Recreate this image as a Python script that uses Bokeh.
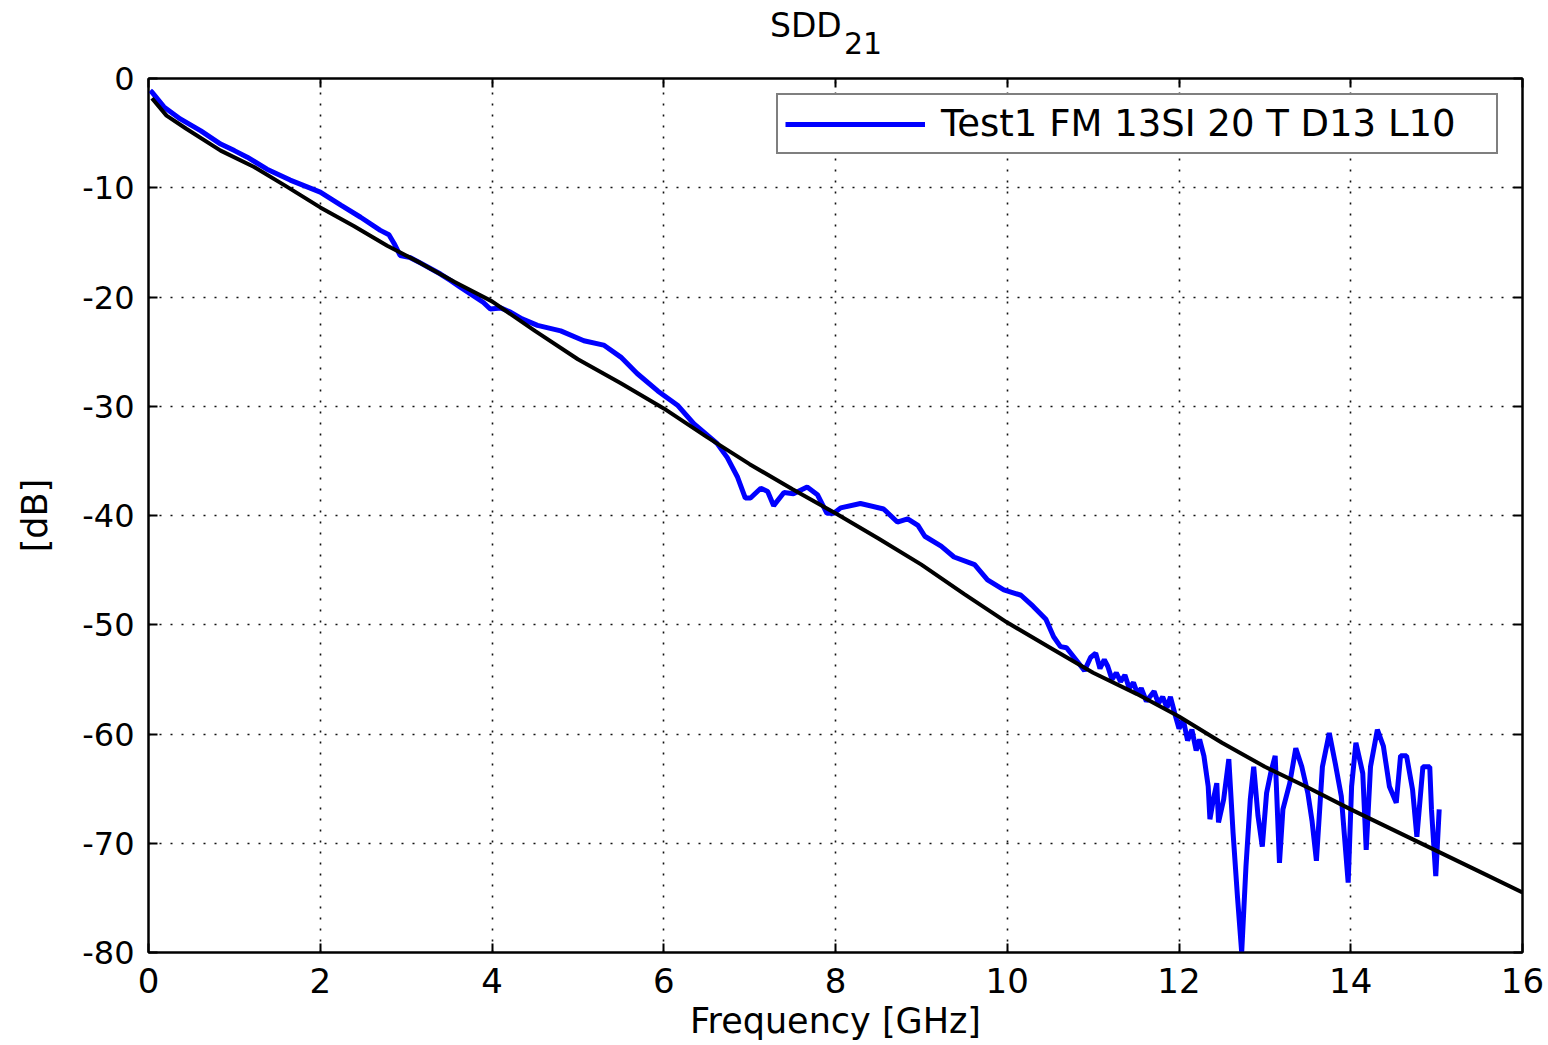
from bokeh.plotting import figure
from bokeh.layouts import column
from bokeh.models import Range1d, LinearAxis, FixedTicker, Legend, LegendItem, Div
from bokeh.embed import file_html
from bokeh.resources import INLINE

# ---------------- data ----------------
x_ticks = [0, 2, 4, 6, 8, 10, 12, 14, 16]
x_tick_labels = ["0", "2", "4", "6", "8", "10", "12", "14", "16"]
y_ticks = [-80, -70, -60, -50, -40, -30, -20, -10, 0]
y_tick_labels = ["-80", "-70", "-60", "-50", "-40", "-30", "-20", "-10", "0"]

title_main = "SDD"
title_sub = "21"
x_label = "Frequency [GHz]"
y_label = "[dB]"
legend_label = "Test1 FM 13SI 20 T D13 L10"

# measured curve (blue)
freq_meas = [
    0.02, 0.04, 0.18, 0.37, 0.61, 0.84, 1.00, 1.15, 1.38, 1.65,
    2.00, 2.24, 2.47, 2.70, 2.80, 2.86, 2.93, 3.05, 3.17, 3.40,
    3.52, 3.63, 3.90, 3.98, 4.10, 4.22, 4.35, 4.53, 4.80, 5.07,
    5.30, 5.50, 5.69, 5.93, 6.16, 6.35, 6.62, 6.74, 6.86, 6.95,
    7.01, 7.13, 7.21, 7.28, 7.40, 7.51, 7.67, 7.79, 7.90, 7.98,
    8.06, 8.29, 8.56, 8.72, 8.84, 8.96, 9.04, 9.23, 9.38, 9.62,
    9.77, 9.96, 10.16, 10.30, 10.45, 10.54, 10.62, 10.69, 10.83, 10.90,
    10.97, 11.03, 11.08, 11.13, 11.17, 11.22, 11.27, 11.32, 11.37, 11.42,
    11.47, 11.52, 11.56, 11.62, 11.71, 11.76, 11.81, 11.86, 11.90, 11.95,
    12.00, 12.05, 12.10, 12.15, 12.20, 12.24, 12.29, 12.34, 12.36, 12.40,
    12.44, 12.46, 12.52, 12.58, 12.63, 12.68, 12.73, 12.78, 12.83, 12.87,
    12.92, 12.97, 13.02, 13.07, 13.12, 13.17, 13.21, 13.29, 13.36, 13.43,
    13.50, 13.55, 13.60, 13.67, 13.75, 13.82, 13.89, 13.97, 14.01, 14.06,
    14.14, 14.18, 14.23, 14.31, 14.38, 14.45, 14.53, 14.58, 14.65, 14.72,
    14.77, 14.84, 14.92, 14.94, 14.99, 15.03,
]
db_meas = [
    -1.1, -1.25, -2.6, -3.7, -4.8, -6.0, -6.6, -7.2, -8.3, -9.3,
    -10.4, -11.6, -12.7, -13.9, -14.3, -15.1, -16.2, -16.4, -16.9, -17.9,
    -18.5, -19.1, -20.5, -21.1, -21.0, -21.4, -22.0, -22.6, -23.1, -24.0,
    -24.4, -25.5, -27.0, -28.6, -29.9, -31.6, -33.4, -34.7, -36.5, -38.4,
    -38.4, -37.5, -37.8, -39.1, -37.9, -38.0, -37.4, -38.1, -39.8, -39.8,
    -39.3, -38.9, -39.4, -40.6, -40.3, -40.9, -41.9, -42.8, -43.8, -44.5,
    -45.9, -46.8, -47.3, -48.3, -49.5, -51.1, -52.0, -52.1, -53.5, -54.2,
    -53.0, -52.6, -54.0, -53.2, -53.8, -55.0, -54.4, -55.2, -54.6, -55.8,
    -55.3, -56.4, -55.8, -57.0, -56.1, -57.2, -56.6, -57.6, -56.6, -58.1,
    -59.5, -58.7, -60.6, -59.6, -61.5, -60.5, -62.0, -64.8, -67.8, -66.0,
    -64.5, -68.1, -66.0, -62.3, -69.1, -74.8, -80.0, -72.1, -66.0, -63.0,
    -67.5, -70.3, -65.4, -63.5, -62.0, -71.8, -66.9, -64.5, -61.3, -63.0,
    -65.4, -68.0, -71.6, -63.0, -59.9, -62.7, -65.7, -73.6, -64.8, -60.8,
    -63.6, -70.6, -63.0, -59.6, -61.1, -64.8, -66.3, -62.0, -62.0, -65.1,
    -69.4, -63.0, -63.0, -66.9, -73.0, -66.9,
]

# model / fitted curve (black)
freq_model = [
    0.04, 0.21, 0.44, 0.84, 1.23, 1.61, 2.00, 2.39, 2.78, 3.17,
    3.56, 4.00, 4.50, 5.00, 5.50, 6.00, 6.50, 7.00, 7.50, 8.00,
    8.50, 9.00, 9.50, 10.00, 10.50, 11.00, 11.50, 12.00, 12.50, 13.00,
    13.50, 14.00, 14.50, 15.00, 15.50, 16.00,
]
db_model = [
    -1.8, -3.4, -4.6, -6.6, -8.1, -9.9, -11.8, -13.5, -15.3, -16.9,
    -18.6, -20.4, -23.1, -25.7, -27.9, -30.2, -32.8, -35.3, -37.6, -39.8,
    -42.1, -44.5, -47.2, -49.8, -52.1, -54.4, -56.3, -58.4, -60.8, -63.0,
    -64.9, -66.9, -68.8, -70.7, -72.6, -74.5,
]

# ---------------- layout constants ----------------
FONT = "DejaVu Sans"
PAGE_W, PAGE_H = 1548, 1045
HEAD_H = 60                       # title strip above the figure

# ---------------- title (SDD with subscript 21) ----------------
title_html = (
    '<div style="position:relative;width:%dpx;height:%dpx;">'
    '<span style="position:absolute;left:770px;top:9px;font-family:\'%s\';'
    'font-size:33px;line-height:1;color:black;white-space:nowrap;">%s</span>'
    '<span style="position:absolute;left:844px;top:29px;font-family:\'%s\';'
    'font-size:30px;line-height:1;color:black;white-space:nowrap;">%s</span>'
    '</div>'
) % (PAGE_W, HEAD_H, FONT, title_main, FONT, title_sub)
head = Div(text=title_html, width=PAGE_W, height=HEAD_H, margin=0)

# ---------------- figure ----------------
p = figure(
    width=PAGE_W, height=PAGE_H - HEAD_H,
    x_range=Range1d(0, 16), y_range=Range1d(-80, 0),
    output_backend="svg", toolbar_location=None,
    min_border_left=148, min_border_right=26,
    min_border_top=78 - HEAD_H, min_border_bottom=93,
    background_fill_color="white", border_fill_color="white",
    margin=0,
)
p.outline_line_color = "black"
p.outline_line_width = 2

for ax, ticks, labels in ((p.xaxis[0], x_ticks, x_tick_labels),
                          (p.yaxis[0], y_ticks, y_tick_labels)):
    ax.ticker = FixedTicker(ticks=ticks)
    ax.major_label_overrides = {t: s for t, s in zip(ticks, labels)}
    ax.major_label_text_font = FONT
    ax.major_label_text_color = "black"
    ax.axis_label_text_font = FONT
    ax.axis_label_text_font_size = "35px"
    ax.axis_label_text_font_style = "normal"
    ax.axis_label_text_color = "black"
    ax.axis_line_color = "black"
    ax.axis_line_width = 2
    ax.major_tick_in = 9
    ax.major_tick_out = 0
    ax.major_tick_line_width = 2
    ax.minor_tick_line_color = None

p.xaxis[0].axis_label = x_label
p.xaxis[0].major_label_text_font_size = "34px"
p.xaxis[0].major_label_standoff = 15
p.xaxis[0].axis_label_standoff = 5
p.yaxis[0].axis_label = y_label
p.yaxis[0].major_label_text_font_size = "32px"
p.yaxis[0].major_label_standoff = 14
p.yaxis[0].axis_label_standoff = 24

# box ticks on top and right (no labels)
top_ax = LinearAxis(ticker=FixedTicker(ticks=x_ticks))
right_ax = LinearAxis(ticker=FixedTicker(ticks=y_ticks))
for ax in (top_ax, right_ax):
    ax.major_label_text_font_size = "0px"
    ax.major_label_text_color = None
    ax.major_label_standoff = 0
    ax.axis_line_color = "black"
    ax.axis_line_width = 2
    ax.major_tick_in = 9
    ax.major_tick_out = 0
    ax.major_tick_line_width = 2
    ax.minor_tick_line_color = None
p.add_layout(top_ax, "above")
p.add_layout(right_ax, "right")

# dotted grid
p.xgrid.ticker = FixedTicker(ticks=x_ticks)
p.ygrid.ticker = FixedTicker(ticks=y_ticks)
for g in (p.xgrid[0], p.ygrid[0]):
    g.grid_line_color = "#111111"
    g.grid_line_width = 1.6
    g.grid_line_dash = "2 9"

# curves
r_meas = p.line(freq_meas, db_meas, line_color="#0000FF", line_width=5)
r_model = p.line(freq_model, db_model, line_color="black", line_width=4)

# legend (only the measured trace)
legend = Legend(
    items=[LegendItem(label=legend_label, renderers=[r_meas])],
    location=(628, 798),
    label_text_font=FONT, label_text_font_size="37px", label_text_color="black",
    glyph_width=140, glyph_height=30, label_standoff=16, label_width=548,
    padding=7, spacing=0, margin=0,
    border_line_color="black", border_line_width=2,
    background_fill_color="white", background_fill_alpha=1,
)
p.add_layout(legend)

layout = column(head, p, spacing=0, margin=0)
open("out.html", "w").write(file_html(layout, INLINE))
